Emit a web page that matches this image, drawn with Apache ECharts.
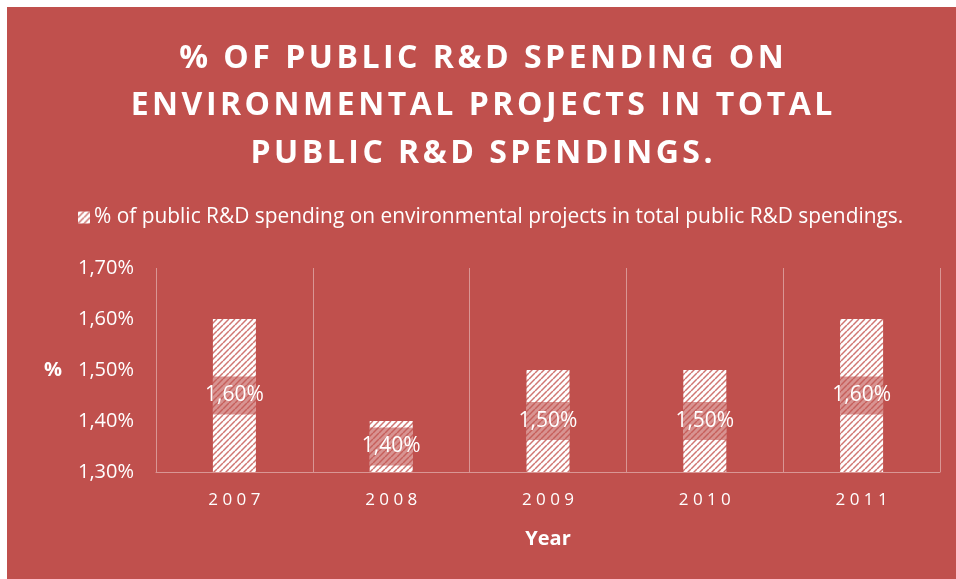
<!DOCTYPE html>
<html>
<head>
<meta charset="utf-8">
<script src="https://cdn.jsdelivr.net/npm/echarts@6/dist/echarts.min.js"></script>
<style>
  html, body { margin: 0; padding: 0; background: #ffffff; }
  #chart { position: absolute; left: 7px; top: 7px; width: 949px; height: 572px; }
</style>
</head>
<body>
<div id="chart"></div>
<script>
// Chart content
const titleLines = ['% OF PUBLIC R&D SPENDING ON', 'ENVIRONMENTAL PROJECTS IN TOTAL', 'PUBLIC R&D SPENDINGS.'];
const seriesName = '% of public R&D spending on environmental projects in total public R&D spendings.';
const years = ['2007', '2008', '2009', '2010', '2011'];
const shares = [1.6, 1.4, 1.5, 1.5, 1.6];
const yMin = 1.3, yMax = 1.7, yStep = 0.1;
const xAxisTitle = 'Year';
const yAxisTitle = '%';

const BG = '#C0504D';
const FONT = '"Open Sans", "Noto Sans", sans-serif';

// Diagonal hatch used to fill the bars
function hatchTile() {
  const s = 6;
  const c = document.createElement('canvas');
  c.width = s; c.height = s;
  const g = c.getContext('2d');
  g.fillStyle = '#ffffff';
  g.fillRect(0, 0, s, s);
  g.strokeStyle = '#D07672';
  g.lineWidth = 1.5;
  for (const o of [-s, 0, s]) {
    g.beginPath();
    g.moveTo(o, s);
    g.lineTo(o + s, 0);
    g.stroke();
  }
  return c;
}
const hatch = { image: hatchTile(), repeat: 'repeat' };

// Spread characters apart with rich tokens (letter spacing)
function spaced(text, style) {
  return text.split('').map(ch => '{' + style + '|' + ch + '}').join('');
}
const pct = v => v.toFixed(2).replace('.', ',') + '%';

const chart = echarts.init(document.getElementById('chart'), null, { renderer: 'canvas' });
chart.setOption({
  backgroundColor: BG,
  animation: false,
  textStyle: { fontFamily: FONT },
  title: {
    text: titleLines.map(l => spaced(l, 't')).join('\n'),
    left: 'center',
    top: 28,
    padding: [0, 0, 0, 22],
    textStyle: {
      rich: {
        t: { color: '#ffffff', fontFamily: FONT, fontWeight: 'bold', fontSize: 32, lineHeight: 47.5, padding: [0, 1.75, 0, 1.75] }
      }
    }
  },
  legend: {
    left: 66,
    top: 195,
    itemWidth: 12,
    itemHeight: 12,
    itemGap: 6,
    icon: 'rect',
    textStyle: { color: '#ffffff', fontSize: 20.9, fontFamily: FONT, padding: [0, 0, 0, -1] }
  },
  grid: { left: 149, right: 16, top: 261, bottom: 107, containLabel: false },
  xAxis: {
    type: 'category',
    data: years,
    name: xAxisTitle,
    nameLocation: 'middle',
    nameGap: 57,
    nameTextStyle: { color: '#ffffff', fontSize: 20, fontWeight: 'bold', fontFamily: FONT },
    axisLine: { show: true, lineStyle: { color: 'rgba(255,255,255,0.4)', width: 1 } },
    axisTick: { show: false },
    splitLine: { show: true, interval: 0, lineStyle: { color: 'rgba(255,255,255,0.4)', width: 1 } },
    axisLabel: {
      margin: 20,
      formatter: v => spaced(v, 'd'),
      rich: { d: { color: '#ffffff', fontSize: 17, fontFamily: FONT, padding: [0, 2.2, 0, 2.2] } }
    }
  },
  yAxis: {
    type: 'value',
    min: yMin,
    max: yMax,
    interval: yStep,
    name: yAxisTitle,
    nameLocation: 'middle',
    nameRotate: 0,
    nameGap: 94,
    nameTextStyle: { color: '#ffffff', fontSize: 20, fontWeight: 'bold', fontFamily: FONT },
    axisLine: { show: false },
    axisTick: { show: false },
    splitLine: { show: false },
    axisLabel: { color: '#ffffff', fontSize: 20, margin: 22, fontFamily: FONT, formatter: v => pct(v) }
  },
  series: [{
    type: 'bar',
    name: seriesName,
    data: shares,
    barWidth: 43,
    itemStyle: { color: hatch },
    label: {
      show: true,
      position: 'inside',
      formatter: p => pct(p.value),
      color: '#ffffff',
      fontSize: 21,
      fontFamily: FONT,
      width: 43,
      overflow: 'none',
      align: 'center',
      lineHeight: 20,
      padding: [11, 0, 7, 0],
      backgroundColor: 'rgba(192,80,77,0.62)'
    }
  }]
});
</script>
</body>
</html>
